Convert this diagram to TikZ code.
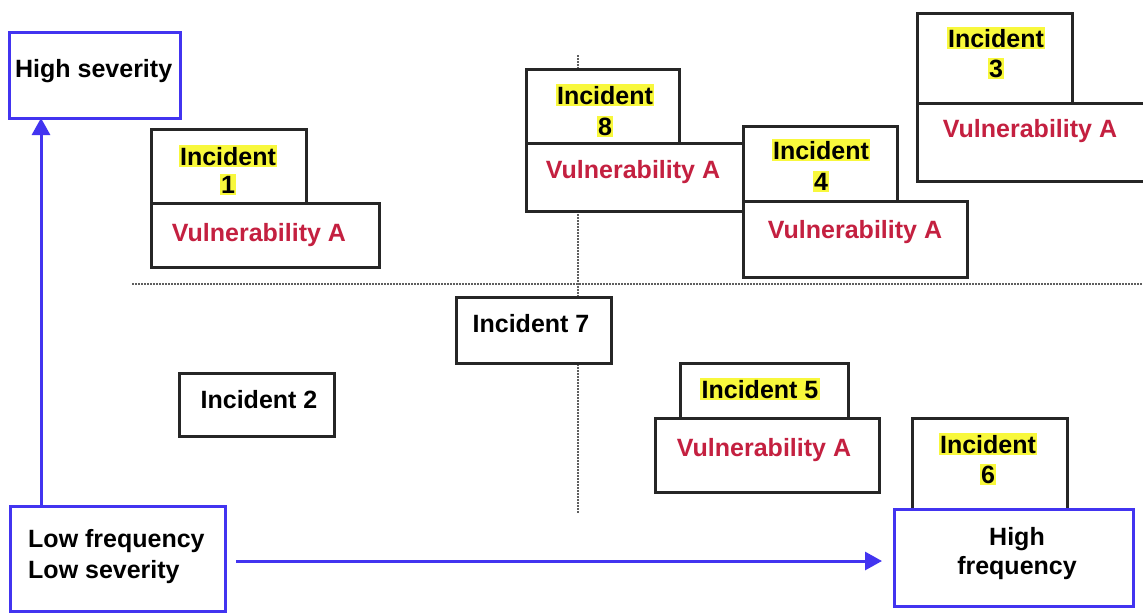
\documentclass[tikz,border=0pt]{standalone}
\usepackage{fontspec}
\setmainfont{Liberation Sans}
\usetikzlibrary{arrows.meta,fit}
\definecolor{hly}{RGB}{248,248,60}
\definecolor{vred}{RGB}{196,32,64}
\definecolor{axblue}{RGB}{66,52,240}
\definecolor{dgray}{RGB}{95,95,95}
\newcommand{\hlt}[1]{{\setlength{\fboxsep}{1.5pt}\colorbox{hly}{#1}}}
\begin{document}
\begin{tikzpicture}[x=1pt,y=-1pt,
  every node/.style={font=\fontsize{25}{28}\selectfont\bfseries},
  box/.style={draw=black!85, line width=3pt, fill=white, inner sep=0pt, outer sep=0pt},
  axbox/.style={draw=axblue, line width=3pt, fill=white, inner sep=0pt, outer sep=0pt},
  lbl/.style={inner sep=0pt, anchor=base},
  lblw/.style={inner sep=0pt, anchor=base west},
  vuln/.style={lbl, text=vred},
  axis/.style={draw=axblue, line width=3pt, -{Triangle[length=17pt,width=18pt]}},
  gridline/.style={draw=dgray, line width=2pt, dash pattern=on 2pt off 1pt}]
\useasboundingbox[fill=white] (0,0) rectangle (1143,614);

% quadrant lines
\coordinate (hl1) at (132,284);
\coordinate (hl2) at (1143,284);
\coordinate (vl1) at (578,55);
\coordinate (vl2) at (578,513);
\draw[gridline] (hl1) -- (hl2);
\draw[gridline] (vl1) -- (vl2);

% axis boxes
\node[axbox, fit={(9,32) (180,118)}] (hs) {};
\node[lblw] (hst) at (15,77) {High severity};
\node[axbox, fit={(10,506) (225,611)}] (lf) {};
\node[lblw] (lft1) at (28,547) {Low frequency};
\node[lblw] (lft2) at (28,578) {Low severity};

% incident 1
\node[box, fit={(151,129) (306,203)}] (i1) {};
\node[lbl] (i1a) at (228,165) {\hlt{Incident}};
\node[lbl] (i1b) at (228,193) {\hlt{1}};
\node[box, fit={(151,203) (379,267)}] (v1) {};
\node[vuln] (v1t) at (259,241) {Vulnerability A};

% incident 8
\node[box, fit={(526,69) (679,143)}] (i8) {};
\node[lbl] (i8a) at (605,104) {\hlt{Incident}};
\node[lbl] (i8b) at (605,135) {\hlt{8}};
\node[box, fit={(526,143) (743,211)}] (v8) {};
\node[vuln] (v8t) at (633,178) {Vulnerability A};

% incident 4
\node[box, fit={(743,126) (897,201)}] (i4) {};
\node[lbl] (i4a) at (821,159) {\hlt{Incident}};
\node[lbl] (i4b) at (821,190) {\hlt{4}};
\node[box, fit={(743,201) (967,277)}] (v4) {};
\node[vuln] (v4t) at (855,238) {Vulnerability A};

% incident 3
\node[box, fit={(917,13) (1072,103)}] (i3) {};
\node[lbl] (i3a) at (996,47) {\hlt{Incident}};
\node[lbl] (i3b) at (996,77) {\hlt{3}};
\node[box, fit={(917,103) (1152,181)}] (v3) {};
\node[vuln] (v3t) at (1030,137) {Vulnerability A};

% incident 7 and 2
\node[box, fit={(456,297) (611,363)}] (i7) {};
\node[lbl] (i7t) at (531,332) {Incident 7};
\node[box, fit={(179,373) (334,436)}] (i2) {};
\node[lbl] (i2t) at (259,408) {Incident 2};

% incident 5
\node[box, fit={(680,363) (848,418)}] (i5) {};
\node[lbl] (i5t) at (760,398) {\hlt{Incident 5}};
\node[box, fit={(655,418) (879,492)}] (v5) {};
\node[vuln] (v5t) at (764,456) {Vulnerability A};

% incident 6 and high frequency
\node[box, fit={(912,418) (1067,510)}] (i6) {};
\node[lbl] (i6a) at (988,453) {\hlt{Incident}};
\node[lbl] (i6b) at (988,483) {\hlt{6}};
\node[axbox, fit={(894,509) (1133,606)}] (hf) {};
\node[lbl] (hft1) at (1017,545) {High};
\node[lbl] (hft2) at (1017,574) {frequency};

% axes
\coordinate (ax) at (41,0);
\coordinate (ay) at (0,561);
\draw[axis] (lf.north -| ax) -- (hs.south -| ax);
\draw[axis, shorten <=11pt, shorten >=12pt] (lf.east |- ay) -- (hf.west |- ay);
\end{tikzpicture}
\end{document}
